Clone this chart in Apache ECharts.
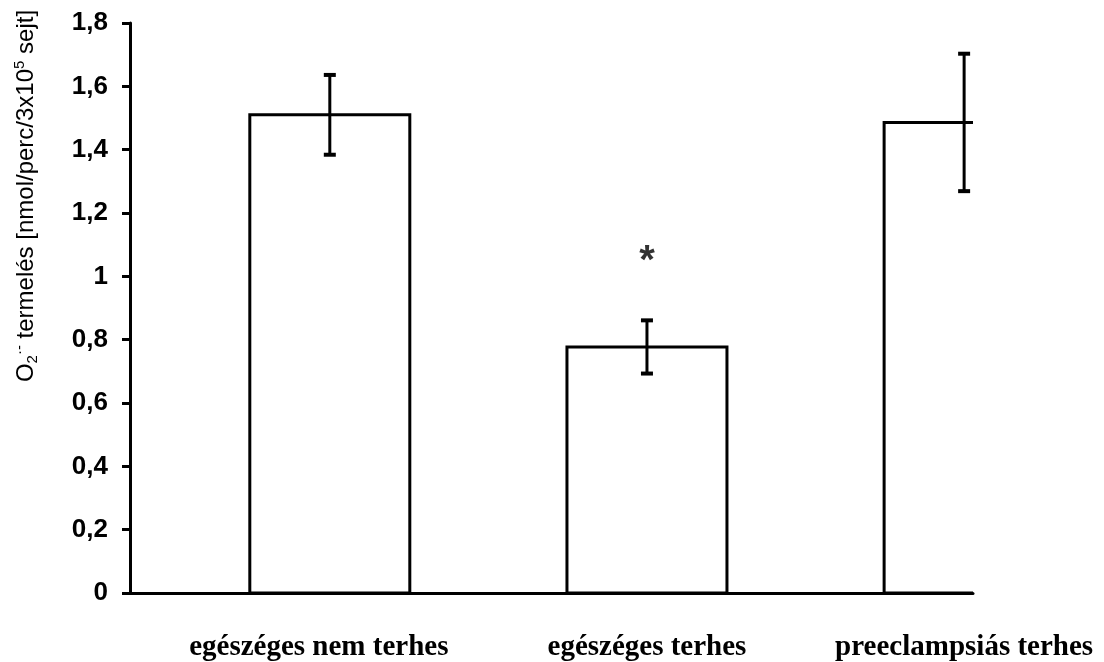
<!DOCTYPE html>
<html>
<head>
<meta charset="utf-8">
<script src="https://cdn.jsdelivr.net/npm/echarts@6/dist/echarts.min.js"></script>
<style>
html,body{margin:0;padding:0;background:#fff;}
#c{width:1104px;height:662px;}
</style>
</head>
<body>
<div id="c"></div>
<script>
// ---- data ----
var categories = ['egészéges nem terhes', 'egészéges terhes', 'preeclampsiás terhes'];
var means = [1.51, 0.777, 1.486];
var errors = [0.126, 0.084, 0.217];
var significance = ['', '*', ''];
var yTicks = [0, 0.2, 0.4, 0.6, 0.8, 1, 1.2, 1.4, 1.6, 1.8];

var positions = categories.map(function (c, i) { return i + 1; });
var seriesData = positions.map(function (p, i) { return [p, means[i], errors[i]]; });

var chart = echarts.init(document.getElementById('c'), null, { renderer: 'canvas' });

var BAR_WIDTH = 160;

var option = {
  backgroundColor: '#ffffff',
  animation: false,
  grid: { left: 130, right: 131, top: 23, bottom: 68, containLabel: false },
  xAxis: {
    type: 'value',
    min: 0.37,
    max: 3.028,
    axisLine: { show: true, onZero: false, lineStyle: { color: '#000', width: 3 } },
    axisTick: { show: false },
    splitLine: { show: false },
    axisLabel: {
      customValues: positions,
      hideOverlap: false,
      margin: 40,
      color: '#000',
      fontFamily: '"Liberation Serif", "Times New Roman", serif',
      fontWeight: 'bold',
      fontSize: 29,
      formatter: function (v) {
        var i = Math.round(v) - 1;
        return i === 0 ? '{first|' + categories[i] + '}' : (categories[i] || '');
      },
      rich: {
        first: {
          fontFamily: '"Liberation Serif", "Times New Roman", serif',
          fontWeight: 'bold',
          fontSize: 29,
          color: '#000',
          padding: [0, 22, 0, 0]
        }
      }
    }
  },
  yAxis: {
    type: 'value',
    min: yTicks[0],
    max: yTicks[yTicks.length - 1],
    interval: 0.2,
    axisLine: { show: true, lineStyle: { color: '#000', width: 3 } },
    axisTick: { show: true, inside: false, length: 8, lineStyle: { color: '#000', width: 3 } },
    splitLine: { show: false },
    axisLabel: {
      margin: 22,
      color: '#000',
      fontFamily: '"Liberation Sans", Arial, sans-serif',
      fontWeight: 'bold',
      fontSize: 26,
      formatter: function (v) { return String(Math.round(v * 10) / 10).replace('.', ','); }
    }
  },
  graphic: [{
    type: 'text',
    x: 26,
    y: 196,
    rotation: Math.PI / 2,
    style: {
      text: '{n|O}{sub|2}{sup|·-}{n| termelés [nmol/perc/3x10}{sup|5}{n| sejt]}',
      align: 'center',
      verticalAlign: 'middle',
      fill: '#000',
      rich: {
        n: { fontFamily: '"Liberation Sans", Arial, sans-serif', fontSize: 24, fill: '#000', lineHeight: 28 },
        sub: { fontFamily: '"Liberation Sans", Arial, sans-serif', fontSize: 15, fill: '#000', verticalAlign: 'bottom', lineHeight: 28 },
        sup: { fontFamily: '"Liberation Sans", Arial, sans-serif', fontSize: 15, fill: '#000', verticalAlign: 'top', lineHeight: 28 }
      }
    }
  }],
  series: [
    {
      // bars (drawn through the grid scales, clipped at the plot's right edge)
      type: 'custom',
      data: seriesData,
      clip: true,
      z: 2,
      renderItem: function (params, api) {
        var x = api.value(0), m = api.value(1);
        var topPt = api.coord([x, m]);
        var basePt = api.coord([x, 0]);
        return {
          type: 'rect',
          shape: { x: topPt[0] - BAR_WIDTH / 2, y: topPt[1], width: BAR_WIDTH, height: basePt[1] - topPt[1] },
          style: { fill: '#ffffff', stroke: '#000', lineWidth: 3 }
        };
      }
    },
    {
      // error bars and significance marks
      type: 'custom',
      data: seriesData,
      clip: true,
      z: 3,
      renderItem: function (params, api) {
        var x = api.value(0), m = api.value(1), e = api.value(2);
        var sig = significance[params.dataIndex];
        var top = api.coord([x, m + e]);
        var bot = api.coord([x, m - e]);
        var capHalf = 6;
        var children = [
          { type: 'line', shape: { x1: top[0], y1: top[1], x2: bot[0], y2: bot[1] }, style: { stroke: '#000', lineWidth: 3 } },
          { type: 'line', shape: { x1: top[0] - capHalf, y1: top[1], x2: top[0] + capHalf, y2: top[1] }, style: { stroke: '#000', lineWidth: 4 } },
          { type: 'line', shape: { x1: bot[0] - capHalf, y1: bot[1], x2: bot[0] + capHalf, y2: bot[1] }, style: { stroke: '#000', lineWidth: 4 } }
        ];
        if (sig) {
          children.push({
            type: 'text',
            x: top[0],
            y: top[1] - 58,
            style: {
              text: sig,
              align: 'center',
              verticalAlign: 'middle',
              fill: '#333',
              font: 'bold 40px "Liberation Sans", Arial, sans-serif'
            }
          });
        }
        return { type: 'group', children: children };
      }
    }
  ]
};
chart.setOption(option);
</script>
</body>
</html>
